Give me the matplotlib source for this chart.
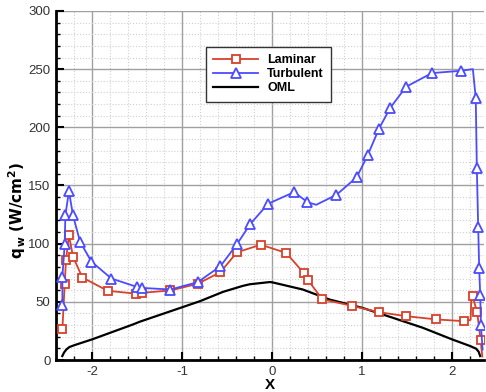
import matplotlib
matplotlib.use("Agg")
import matplotlib.pyplot as plt
from matplotlib.ticker import MultipleLocator

plt.rcParams['font.family'] = ['Liberation Sans', 'DejaVu Sans']
plt.rcParams['axes.unicode_minus'] = False

# Laminar heating along the surface
lam_x = [-2.329, -2.303, -2.289, -2.256, -2.211, -2.107, -1.826, -1.507, -1.45,
         -1.129, -0.826, -0.574, -0.389, -0.125, 0.158, 0.354, 0.395, 0.558,
         0.884, 1.186, 1.489, 1.822, 2.128, 2.205, 2.215, 2.227, 2.278, 2.316, 2.335]
lam_q = [26.3, 65.7, 85.7, 107.3, 88.8, 70.9, 59.5, 57.0, 57.7,
         59.8, 65.5, 75.5, 92.6, 99.1, 92.0, 74.6, 69.1, 52.2,
         46.6, 41.1, 37.7, 34.9, 33.4, 34.5, 58.0, 54.6, 40.9, 17.1, 3.0]
lam_marks = [0, 1, 2, 3, 4, 5, 6, 7, 8, 9, 10, 11, 12, 13, 14, 15, 16, 17,
             18, 19, 20, 21, 22, 25, 26, 27]

# Turbulent heating along the surface
turb_x = [-2.329, -2.329, -2.303, -2.296, -2.256, -2.211, -2.133, -2.007, -1.784,
          -1.503, -1.45, -1.129, -0.826, -0.574, -0.389, -0.24, -0.044, 0.244,
          0.393, 0.49, 0.715, 0.94, 1.062, 1.186, 1.311, 1.489, 1.774, 2.1,
          2.23, 2.262, 2.274, 2.289, 2.3, 2.312, 2.319, 2.338]
turb_q = [47.1, 71.7, 99.5, 124.3, 145.1, 124.3, 101.8, 84.6, 70.0,
          62.9, 62.0, 60.6, 66.9, 80.6, 99.7, 117.1, 134.3, 144.3,
          135.7, 133.4, 142.0, 157.1, 176.0, 198.6, 216.6, 234.9, 246.6, 248.6,
          250.0, 225.0, 165.2, 114.3, 79.1, 55.7, 30.0, 9.0]
turb_marks = [0, 1, 2, 3, 4, 5, 6, 7, 8, 9, 10, 11, 12, 13, 14, 15, 16, 17,
              18, 20, 21, 22, 23, 24, 25, 26, 27, 29, 30, 31, 32, 33, 34]

# Outer mold line profile
oml_x = [-2.33, -2.31, -2.284, -2.25, -2.19, -2.0, -1.544, -1.47, -1.0, -0.8,
         -0.544, -0.326, -0.248, -0.026, 0.0, 0.341, 0.638, 1.0, 1.341, 1.674,
         2.0, 2.2, 2.267, 2.295, 2.311]
oml_q = [3.4, 6.5, 9.1, 11.2, 12.9, 17.7, 30.6, 32.9, 45.3, 50.6,
         58.6, 63.7, 65.1, 67.0, 66.8, 60.6, 52.0, 44.9, 36.3, 27.7,
         17.7, 12.0, 9.7, 7.0, 3.4]

xticks = [-2, -1, 0, 1, 2]
yticks = [0, 50, 100, 150, 200, 250, 300]

red = '#d8412a'
blue = '#4b4bff'

fig = plt.figure(figsize=(4.86, 3.92), dpi=100)
ax = fig.add_axes([0.1152, 0.0816, 0.8815, 0.8904])

ax.plot(lam_x, lam_q, color=red, lw=1.3, marker='s', markevery=lam_marks,
        ms=6, mfc='white', mec=red, mew=1.3, label='Laminar', zorder=3)
ax.plot(turb_x, turb_q, color=blue, lw=1.3, marker='^', markevery=turb_marks,
        ms=7, mfc='white', mec=blue, mew=1.3, label='Turbulent', zorder=4)
ax.plot(oml_x, oml_q, color='black', lw=1.6, label='OML', zorder=2)

ax.set_xlim(-2.4, 2.358)
ax.set_ylim(0, 300)
ax.set_xticks(xticks)
ax.set_yticks(yticks)
ax.xaxis.set_minor_locator(MultipleLocator(0.2))
ax.yaxis.set_minor_locator(MultipleLocator(10))

ax.grid(which='major', color='#a0a0a0', lw=1.0, ls='-')
ax.grid(which='minor', color='#d0d0d0', lw=0.8, ls=':')
ax.set_axisbelow(True)

for side in ['top', 'right']:
    ax.spines[side].set_visible(False)
for side in ['left', 'bottom']:
    ax.spines[side].set_linewidth(2.0)

ax.tick_params(which='major', direction='in', length=6, width=1.5,
               labelsize=9.5, labelcolor='#333333', pad=4)
ax.tick_params(which='minor', direction='in', length=3, width=1.0)

ax.set_xlabel('X', fontsize=11, fontweight='bold', labelpad=0)
ax.set_ylabel(r'$\mathbf{q}_{\,\mathbf{w}}$ $\mathbf{(W/cm^2)}$', fontsize=11,
              fontweight='bold', labelpad=2)
ax.yaxis.set_label_coords(-0.065, 0.43)

leg = ax.legend(loc='upper left', bbox_to_anchor=(0.335, 0.915), frameon=True,
                fancybox=False, edgecolor='#333333', framealpha=1,
                prop={'weight': 'bold', 'size': 9}, handlelength=3.6,
                borderpad=0.6, labelspacing=0.15, handletextpad=0.7)
leg.get_frame().set_linewidth(1.0)

fig.savefig('out.png', dpi=100)
